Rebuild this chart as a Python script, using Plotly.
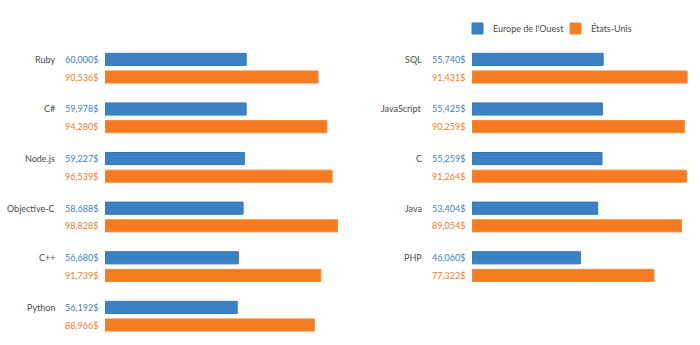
import plotly.graph_objects as go

# Salaires moyens par langage : Europe de l'Ouest vs États-Unis
langages_gauche = ["Ruby", "C#", "Node.js", "Objective-C", "C++", "Python"]
europe_gauche = [60000, 59978, 59227, 58688, 56680, 56192]
usa_gauche = [90536, 94280, 96539, 98828, 91739, 88966]

langages_droite = ["SQL", "JavaScript", "C", "Java", "PHP"]
europe_droite = [55740, 55425, 55259, 53404, 46060]
usa_droite = [91431, 90259, 91264, 89054, 77322]

serie_europe = "Europe de l'Ouest"
serie_usa = "États-Unis"

BLEU = "#3b82c4"
BLEU_BORD = "#3577b8"
ORANGE = "#f47b20"
ORANGE_BORD = "#f58a3a"
TEXTE_BLEU = "#3d7fc1"
TEXTE_ORANGE = "#ef7d2a"
GRIS = "#4a4a4a"
POLICE = "Lato"
TAILLE = 9

W, H = 700, 345
px_par_unite = 2.353 / 1000.0   # pixels per dollar on both panels

gauche_debut = 105
droite_debut = 472
gauche_fin = gauche_debut + 100000 * px_par_unite
droite_fin = W
droite_max = (droite_fin - droite_debut) / px_par_unite

# vertical extent of the rows (6 slots on each side)
haut_px = 43.4
pas_px = 49.6
bas_px = haut_px + 6 * pas_px
dom_y = [1 - bas_px / H, 1 - haut_px / H]

fig = go.Figure()

def panneau(cats, eu, us, xa, ya):
    fig.add_trace(go.Bar(y=cats, x=eu, orientation="h", name=serie_europe,
                         marker=dict(color=BLEU, line=dict(color=BLEU_BORD, width=1)),
                         xaxis=xa, yaxis=ya, showlegend=False, hoverinfo="skip"))
    fig.add_trace(go.Bar(y=cats, x=us, orientation="h", name=serie_usa,
                         marker=dict(color=ORANGE, line=dict(color=ORANGE_BORD, width=1)),
                         xaxis=xa, yaxis=ya, showlegend=False, hoverinfo="skip"))

panneau(langages_gauche, europe_gauche, usa_gauche, "x", "y")
panneau(langages_droite, europe_droite, usa_droite, "x2", "y2")

demi = pas_px * (1 - 0.29) / 4  # centre offset of each bar within a row

annotations = []

def etiquettes(cats, eu, us, xref, yref):
    for c, a, b in zip(cats, eu, us):
        annotations.append(dict(x=0, y=c, xref=xref, yref=yref, text=c,
                                xanchor="right", yanchor="middle", xshift=-48,
                                yshift=demi, showarrow=False,
                                font=dict(family=POLICE, size=TAILLE, color=GRIS)))
        annotations.append(dict(x=0, y=c, xref=xref, yref=yref,
                                text=f"{a:,}$", xanchor="left", yanchor="middle",
                                xshift=-42, yshift=demi, showarrow=False,
                                font=dict(family=POLICE, size=TAILLE, color=TEXTE_BLEU)))
        annotations.append(dict(x=0, y=c, xref=xref, yref=yref,
                                text=f"{b:,}$", xanchor="left", yanchor="middle",
                                xshift=-42, yshift=-demi, showarrow=False,
                                font=dict(family=POLICE, size=TAILLE, color=TEXTE_ORANGE)))

etiquettes(langages_gauche, europe_gauche, usa_gauche, "x", "y")
etiquettes(langages_droite, europe_droite, usa_droite, "x2", "y2")

# legend drawn as swatches with labels
legende = [(serie_europe, BLEU, BLEU_BORD, 472, 491), (serie_usa, ORANGE, ORANGE_BORD, 570, 589)]
shapes = []
for nom, coul, bord, x0, xt in legende:
    shapes.append(dict(type="rect", xref="paper", yref="paper",
                       x0=x0 / W, x1=(x0 + 11) / W, y0=1 - 34 / H, y1=1 - 23 / H,
                       fillcolor=coul, line=dict(color=bord, width=1)))
    annotations.append(dict(x=xt / W, y=1 - 28.5 / H, xref="paper", yref="paper",
                            text=nom, xanchor="left", yanchor="middle", showarrow=False,
                            font=dict(family=POLICE, size=TAILLE, color=GRIS)))

axe_x = dict(showgrid=False, zeroline=False, showticklabels=False, showline=False, fixedrange=True)
axe_y = dict(showgrid=False, zeroline=False, showticklabels=False, showline=False,
             type="category", range=[5.5, -0.5], fixedrange=True)

fig.update_layout(
    width=W, height=H,
    margin=dict(l=0, r=0, t=0, b=0),
    paper_bgcolor="white", plot_bgcolor="white",
    barmode="group", bargap=0.29, bargroupgap=0.31,
    xaxis=dict(axe_x, domain=[gauche_debut / W, gauche_fin / W], range=[0, 100000]),
    xaxis2=dict(axe_x, domain=[droite_debut / W, droite_fin / W], range=[0, droite_max]),
    yaxis=dict(axe_y, domain=dom_y, anchor="x"),
    yaxis2=dict(axe_y, domain=dom_y, anchor="x2"),
    annotations=annotations,
    shapes=shapes,
    showlegend=False,
)

fig.write_html("out.html")
